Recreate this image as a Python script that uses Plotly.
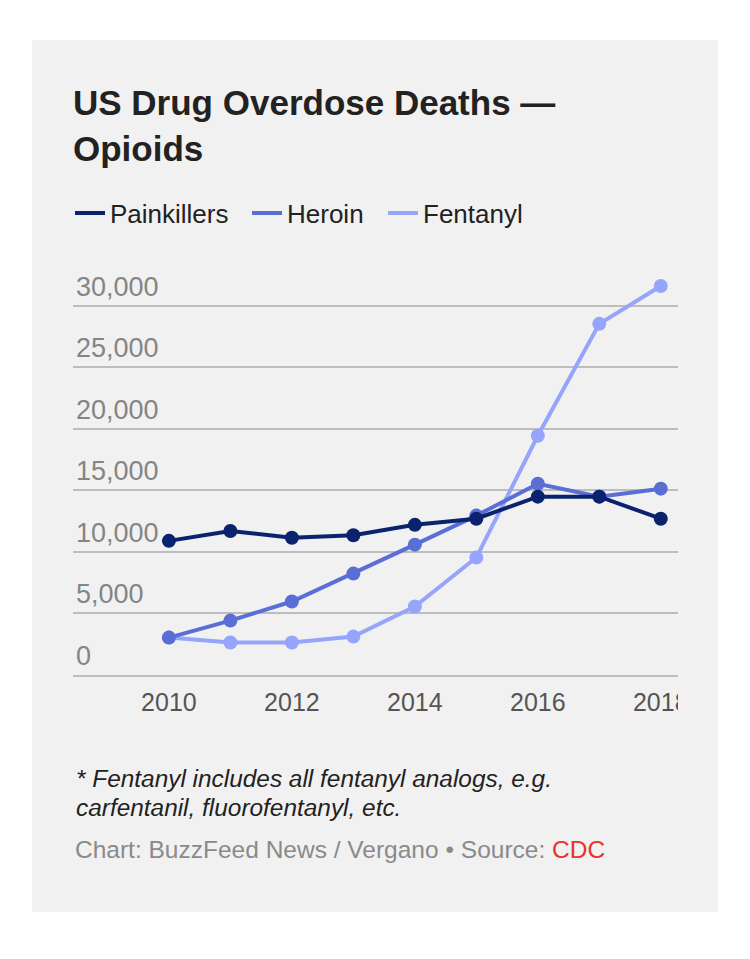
import plotly.graph_objects as go

years = [2010, 2011, 2012, 2013, 2014, 2015, 2016, 2017, 2018]
painkillers = [10900, 11700, 11150, 11350, 12200, 12700, 14490, 14490, 12700]
heroin = [3040, 4420, 5970, 8240, 10590, 12950, 15540, 14490, 15140]
fentanyl = [3040, 2640, 2640, 3120, 5560, 9540, 19440, 28530, 31610]

y_ticks = [0, 5000, 10000, 15000, 20000, 25000, 30000]
y_tick_labels = ["0", "5,000", "10,000", "15,000", "20,000", "25,000", "30,000"]
x_ticks = [2010, 2012, 2014, 2016, 2018]

C_PAIN = "#0b226f"
C_HER = "#5a6ed6"
C_FEN = "#95a5fb"
CARD = "#f1f1f1"
FONT = "Liberation Sans, Arial, sans-serif"

W, H = 750, 959
L, R, T, B = 73, 72, 275, 283.5
PW, PH = W - L - R, H - T - B


def px_x(px):
    return (px - L) / PW


def px_y(py):
    return (H - B - py) / PH


# drawing order: Fentanyl at the back, Painkillers on top
series = [("Fentanyl", fentanyl, C_FEN), ("Heroin", heroin, C_HER), ("Painkillers", painkillers, C_PAIN)]
legend_widths = {"Painkillers": 132, "Heroin": 91, "Fentanyl": 110}

fig = go.Figure()
for name, vals, col in series:
    fig.add_trace(go.Scatter(
        x=years, y=vals, name=name, mode="lines+markers",
        line=dict(color=col, width=4),
        marker=dict(color=col, size=14),
        cliponaxis=False, showlegend=False,
        hoverinfo="skip",
    ))
# legend entries show only the line, as in the reference
for name, vals, col in reversed(series):
    fig.add_trace(go.Scatter(
        x=[None], y=[None], name=name, mode="lines",
        line=dict(color=col, width=4),
        legendwidth=legend_widths[name],
        showlegend=True, hoverinfo="skip",
    ))

annotations = []
for v, t in zip(y_ticks, y_tick_labels):
    annotations.append(dict(
        x=0, xref="paper", y=v, yref="y", text=t, showarrow=False,
        xanchor="left", yanchor="bottom", xshift=1, yshift=2,
        font=dict(family=FONT, size=27, color="#858585"),
    ))

annotations.append(dict(
    x=0, xref="paper", y=px_y(779), yref="paper",
    text="<i>* Fentanyl includes all fentanyl analogs, e.g.</i>",
    showarrow=False, xanchor="left", yanchor="middle", xshift=1,
    font=dict(family=FONT, size=24.4, color="#222222"),
))
annotations.append(dict(
    x=0, xref="paper", y=px_y(808), yref="paper",
    text="<i>carfentanil, fluorofentanyl, etc.</i>",
    showarrow=False, xanchor="left", yanchor="middle", xshift=1,
    font=dict(family=FONT, size=24.4, color="#222222"),
))
annotations.append(dict(
    x=0, xref="paper", y=px_y(850), yref="paper",
    text="Chart: BuzzFeed News / Vergano • Source: <span style='color:#e8332b'>CDC</span>",
    showarrow=False, xanchor="left", yanchor="middle",
    font=dict(family=FONT, size=24.5, color="#8a8a8a"),
))

shapes = [
    dict(type="rect", xref="paper", yref="paper", layer="below",
         x0=px_x(32), x1=px_x(718), y0=px_y(913), y1=px_y(40),
         fillcolor=CARD, line=dict(width=0)),
    # mask to clip the rightmost tick label at the plot edge, as in the reference
    dict(type="rect", xref="paper", yref="paper", layer="above",
         x0=1, x1=px_x(717), y0=px_y(722), y1=px_y(680),
         fillcolor=CARD, line=dict(width=0)),
]

fig.update_layout(
    width=W, height=H,
    margin=dict(l=L, r=R, t=T, b=B, pad=0),
    paper_bgcolor="white",
    plot_bgcolor=CARD,
    font=dict(family=FONT),
    title=dict(
        text="<b>US Drug Overdose Deaths —<br>Opioids</b>",
        x=L / W, xanchor="left", xref="container",
        y=1 - 115 / H, yanchor="top", yref="container",
        font=dict(family=FONT, size=35, color="#222222"),
    ),
    showlegend=True,
    legend=dict(
        orientation="h", x=px_x(70), xanchor="left", y=px_y(213), yanchor="middle",
        bgcolor="rgba(0,0,0,0)", borderwidth=0, traceorder="normal",
        font=dict(family=FONT, size=26, color="#222222"),
        itemwidth=30, itemclick=False, itemdoubleclick=False,
    ),
    xaxis=dict(
        range=[2008.44, 2018.28], tickvals=x_ticks, ticktext=[str(x) for x in x_ticks],
        showgrid=False, zeroline=False, showline=True, linecolor="#bdbdbd", linewidth=2,
        ticks="", ticklabelstandoff=4, tickfont=dict(family=FONT, size=25, color="#555555"),
        fixedrange=True,
    ),
    yaxis=dict(
        range=[0, 32500], tickvals=y_ticks, showticklabels=False,
        showgrid=True, gridcolor="#bdbdbd", gridwidth=2, zeroline=False,
        ticks="", fixedrange=True,
    ),
    annotations=annotations,
    shapes=shapes,
)

fig.write_html("out.html", config={"displayModeBar": False})
